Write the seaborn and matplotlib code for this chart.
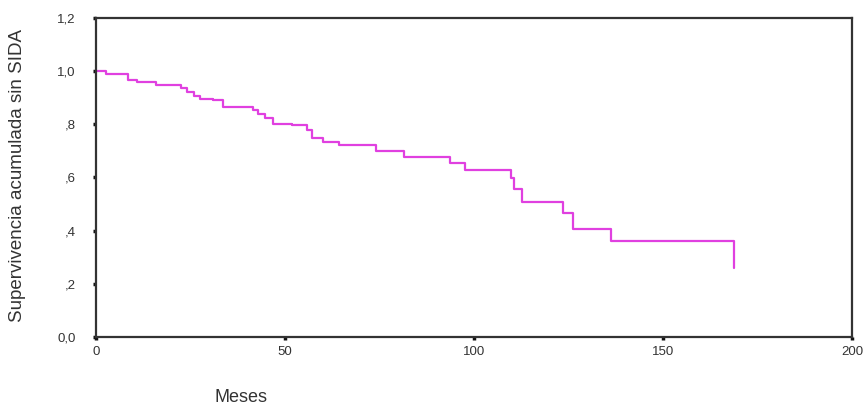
import pandas as pd
import matplotlib
matplotlib.use("Agg")
import matplotlib.pyplot as plt
import seaborn as sns

# Kaplan-Meier steps (months, cumulative survival)
meses = [0, 2.8, 8.5, 10.8, 16, 22.6, 24, 26, 27.5, 31, 33.6, 41.6, 43, 44.7, 46.9,
         52, 55.9, 57.2, 60, 64.4, 74.2, 81.6, 93.7, 97.6, 109.8, 110.7, 112.7,
         123.6, 126.1, 136.4, 168.9]
supervivencia = [1.0, 0.989, 0.966, 0.96, 0.947, 0.935, 0.92, 0.905, 0.897, 0.89, 0.865,
                 0.855, 0.84, 0.823, 0.803, 0.797, 0.78, 0.748, 0.734, 0.724, 0.699,
                 0.676, 0.653, 0.628, 0.597, 0.557, 0.509, 0.465, 0.408, 0.361, 0.258]

y_ticks = [0.0, 0.2, 0.4, 0.6, 0.8, 1.0, 1.2]
y_labels = ["0,0", ",2", ",4", ",6", ",8", "1,0", "1,2"]
x_ticks = [0, 50, 100, 150, 200]

df = pd.DataFrame({"Meses": meses, "Supervivencia": supervivencia})

sns.set_style("white")
plt.rcParams["font.family"] = ["Liberation Sans", "DejaVu Sans"]

fig = plt.figure(figsize=(8.64, 4.08), dpi=100)
ax = fig.add_axes([0.111, 0.174, 0.875, 0.782])

sns.lineplot(data=df, x="Meses", y="Supervivencia", drawstyle="steps-post",
             color="#e040e0", linewidth=1.6, ax=ax)

ax.set_xlim(0, 200)
ax.set_ylim(0, 1.2)
ax.set_xticks(x_ticks)
ax.set_yticks(y_ticks)
ax.set_yticklabels(y_labels)
ax.set_xlabel("")
ax.set_ylabel("")

for s in ax.spines.values():
    s.set_visible(True)
    s.set_color("#333333")
    s.set_linewidth(1.6)

ax.tick_params(axis="both", bottom=True, left=True, direction="out", length=2.5,
               width=2.5, color="#111111", labelsize=9.5, labelcolor="#333333")
ax.tick_params(axis="y", pad=12)
ax.tick_params(axis="x", pad=4)

fig.text(18 / 864, 1 - 176 / 408, "Supervivencia acumulada sin SIDA", rotation=90,
         ha="center", va="center", fontsize=13.5, color="#333333")
fig.text(241 / 864, 1 - 398 / 408, "Meses", ha="center", va="center",
         fontsize=13, color="#333333")

fig.savefig("out.png", dpi=100)
